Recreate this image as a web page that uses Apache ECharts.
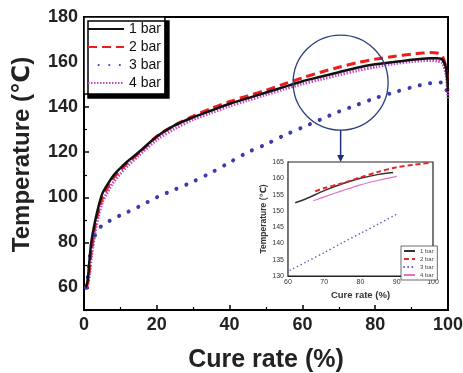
<!DOCTYPE html>
<html>
<head>
<meta charset="utf-8">
<script src="https://cdn.jsdelivr.net/npm/echarts@6/dist/echarts.min.js"></script>
<style>
  html, body { margin: 0; padding: 0; background: #fff; }
  #chart { width: 463px; height: 373px; }
</style>
</head>
<body>
<div id="chart"></div>
<script>
// main plot
const cureRate = [0.5, 1, 1.5, 2, 3, 4, 5, 6, 8, 10, 12, 15, 20, 25, 30, 35, 40, 45, 50, 55, 60, 65, 70, 75, 80, 85, 90, 93, 95, 97, 98.5, 99.5, 100];
const bar1 = [60, 63, 72, 80, 89, 96, 101.5, 104.5, 109.5, 113, 116, 120, 127, 132, 135.5, 138.5, 141.5, 144, 146.5, 149, 151.5, 153.5, 155.5, 157.5, 159, 160, 161, 161.5, 161.7, 161.7, 161, 157, 147];
const bar2 = [60, 62, 68, 76, 87, 94, 99.5, 103, 108.5, 112, 115.5, 119.5, 127, 132, 136, 139.5, 142.5, 145, 147.5, 150.3, 153, 155.5, 157.7, 159.7, 161.3, 162.5, 163.5, 164, 164.2, 164, 162.5, 157, 150];
const bar3 = [60, 64, 72, 78, 83, 86, 87.5, 88.5, 90.5, 92, 93.5, 95.8, 100, 103.5, 107, 111, 115.5, 120, 123.5, 127.5, 131, 134.5, 138, 141, 144, 146.5, 148.8, 150, 150.6, 151, 150.8, 148, 145];
const bar4 = [59, 61, 66, 73, 84, 92, 97.5, 101, 106.5, 110.5, 114, 118.5, 125.5, 130.5, 134.5, 137.5, 140.5, 143, 145.5, 148, 150.3, 152.3, 154.3, 156.2, 157.8, 159.2, 160.2, 160.6, 160.7, 160.5, 159.5, 154, 144];
const yMajor = [60, 80, 100, 120, 140, 160, 180];
const yMinor = [50, 70, 90, 110, 130, 150, 170];

// inset (zoom of the circled area)
const insetX1 = [62, 65, 70, 75, 80, 85, 89];
const insetBar1 = [152.5, 153.7, 156.2, 158.3, 160, 161.2, 161.8];
const insetX2 = [67.5, 70, 75, 80, 85, 90, 95, 99];
const insetBar2 = [156, 157, 158.5, 160.3, 162, 163.4, 164.2, 164.7];
const insetX3 = [60.6, 65, 70, 75, 80, 85, 90];
const insetBar3 = [131.8, 134.3, 137.2, 140.2, 143.1, 146, 149];
const insetX4 = [67, 70, 75, 80, 85, 90];
const insetBar4 = [153.1, 154.3, 156.2, 158, 159.4, 160.6];

const names = ['1 bar', '2 bar', '3 bar', '4 bar'];
const insetNames = ['1 bar ', '2 bar ', '3 bar ', '4 bar '];

const zip = (xs, ys) => xs.map((x, i) => [x, ys[i]]);
const font = 'Liberation Sans, Arial, DejaVu Sans, sans-serif';

const chart = echarts.init(document.getElementById('chart'));

const styles = [
  { color: '#111111', width: 2.5, type: 'solid' },
  { color: '#ee1c1c', width: 3, type: [9, 5] },
  { color: '#3b3bb0', width: 4, type: [0.1, 10.5], cap: 'round' },
  { color: '#c646c6', width: 3, type: [1.5, 1.5] }
];
const insetStyles = [
  { color: '#333333', width: 1.5, type: 'solid' },
  { color: '#e8262a', width: 2, type: [5, 3] },
  { color: '#6a5cc0', width: 1.6, type: [0.1, 4], cap: 'round' },
  { color: '#e070c8', width: 1.2, type: 'solid' }
];

const mainData = [bar1, bar2, bar3, bar4];
const insetData = [zip(insetX1, insetBar1), zip(insetX2, insetBar2), zip(insetX3, insetBar3), zip(insetX4, insetBar4)];

const series = [];
names.forEach((n, i) => {
  series.push({
    name: n, type: 'line', xAxisIndex: 0, yAxisIndex: 0,
    data: zip(cureRate, mainData[i]), symbol: 'none', smooth: 0.3,
    lineStyle: styles[i], itemStyle: { color: styles[i].color }, z: 2 + (3 - i)
  });
});
insetNames.forEach((n, i) => {
  series.push({
    name: n, type: 'line', xAxisIndex: 1, yAxisIndex: 2,
    data: insetData[i], symbol: 'none', smooth: 0.3,
    lineStyle: insetStyles[i], itemStyle: { color: insetStyles[i].color }, z: 10
  });
});

const option = {
  backgroundColor: '#fff',
  animation: false,
  grid: [
    { left: 84, top: 17, right: 15, bottom: 63, outerBoundsMode: 'none', show: true, borderColor: '#000', borderWidth: 2 },
    { left: 288, top: 162, width: 145, height: 114, outerBoundsMode: 'none', show: true, borderColor: '#222', borderWidth: 1.2, backgroundColor: '#fff', z: 5 }
  ],
  legend: [
    {
      data: names, orient: 'vertical', left: 84, top: 17,
      itemWidth: 36, itemHeight: 14, itemGap: 4, padding: [5, 4, 4, 3],
      itemStyle: { opacity: 0 },
      backgroundColor: '#fff', borderColor: '#000', borderWidth: 1.5,
      shadowColor: '#000', shadowBlur: 0, shadowOffsetX: 4, shadowOffsetY: 4,
      textStyle: { fontFamily: font, fontSize: 14, color: '#111' }
    },
    {
      data: insetNames, orient: 'vertical', left: 401, top: 246, z: 12,
      itemWidth: 11, itemHeight: 5, itemGap: 2, padding: [2, 2, 2, 2],
      itemStyle: { opacity: 0 },
      backgroundColor: '#fff', borderColor: '#444', borderWidth: 0.8,
      textStyle: { fontFamily: font, fontSize: 6, color: '#444' }
    }
  ],
  xAxis: [
    {
      gridIndex: 0, type: 'value', min: 0, max: 100, interval: 20,
      name: 'Cure rate (%)', nameLocation: 'middle', nameGap: 38,
      nameTextStyle: { fontFamily: font, fontSize: 25, fontWeight: 'bold', color: '#222' },
      axisLine: { lineStyle: { color: '#000', width: 2 } },
      axisTick: { inside: true, length: 5, lineStyle: { color: '#000', width: 1.5 } },
      minorTick: { show: true, splitNumber: 2, length: 3, lineStyle: { color: '#000', width: 1.2 } },
      axisLabel: { fontFamily: font, fontSize: 18, fontWeight: 'bold', color: '#222', margin: 6 },
      splitLine: { show: false }
    },
    {
      gridIndex: 1, type: 'value', min: 60, max: 100, interval: 10,
      name: 'Cure rate (%)', nameLocation: 'middle', nameGap: 14,
      nameTextStyle: { fontFamily: font, fontSize: 9.5, fontWeight: 'bold', color: '#333' },
      axisLine: { lineStyle: { color: '#222', width: 1.2 } },
      axisTick: { inside: true, length: 3, lineStyle: { color: '#222', width: 1 } },
      minorTick: { show: true, splitNumber: 2, length: 2, lineStyle: { color: '#222', width: 0.8 } },
      axisLabel: { fontFamily: font, fontSize: 7, color: '#333', margin: 3 },
      splitLine: { show: false }
    }
  ],
  yAxis: [
    {
      gridIndex: 0, type: 'value', min: 50, max: 180, position: 'left',
      name: 'Temperature (℃)', nameLocation: 'middle', nameGap: 50,
      nameTextStyle: { fontFamily: font, fontSize: 24, fontWeight: 'bold', color: '#222', padding: [0, 0, 0, 18] },
      axisLine: { lineStyle: { color: '#000', width: 2 } },
      axisTick: { inside: true, length: 5, customValues: yMajor, lineStyle: { color: '#000', width: 1.5 } },
      axisLabel: { customValues: yMajor, fontFamily: font, fontSize: 18, fontWeight: 'bold', color: '#222', margin: 6 },
      splitLine: { show: false }
    },
    {
      gridIndex: 0, type: 'value', min: 50, max: 180, position: 'left',
      axisLine: { show: false },
      axisTick: { inside: true, length: 3, customValues: yMinor, lineStyle: { color: '#000', width: 1.2 } },
      axisLabel: { show: false },
      splitLine: { show: false }
    },
    {
      gridIndex: 1, type: 'value', min: 130, max: 165, interval: 5,
      name: 'Temperature (℃)', nameLocation: 'middle', nameGap: 20,
      nameTextStyle: { fontFamily: font, fontSize: 8.5, fontWeight: 'bold', color: '#333' },
      axisLine: { lineStyle: { color: '#222', width: 1.2 } },
      axisTick: { inside: true, length: 3, lineStyle: { color: '#222', width: 1 } },
      axisLabel: { fontFamily: font, fontSize: 7, color: '#333', margin: 4 },
      splitLine: { show: false }
    }
  ],
  series: series
};

chart.setOption(option);

// circle around the zoomed region and arrow down to the inset
const c = chart.convertToPixel({ gridIndex: 0 }, [70.5, 150.9]);
const r = 47.5;
const arrowTop = c[1] + r;
const arrowEnd = 162;
chart.setOption({
  graphic: [
    { type: 'circle', z: 20, shape: { cx: c[0], cy: c[1], r: r }, style: { fill: 'none', stroke: '#2b3f80', lineWidth: 1.3 } },
    { type: 'line', z: 20, shape: { x1: c[0], y1: arrowTop, x2: c[0], y2: arrowEnd - 6 }, style: { stroke: '#1f2f75', lineWidth: 1.5 } },
    { type: 'polygon', z: 20, shape: { points: [[c[0] - 3.5, arrowEnd - 7], [c[0] + 3.5, arrowEnd - 7], [c[0], arrowEnd]] }, style: { fill: '#1f2f75' } }
  ]
});
</script>
</body>
</html>
